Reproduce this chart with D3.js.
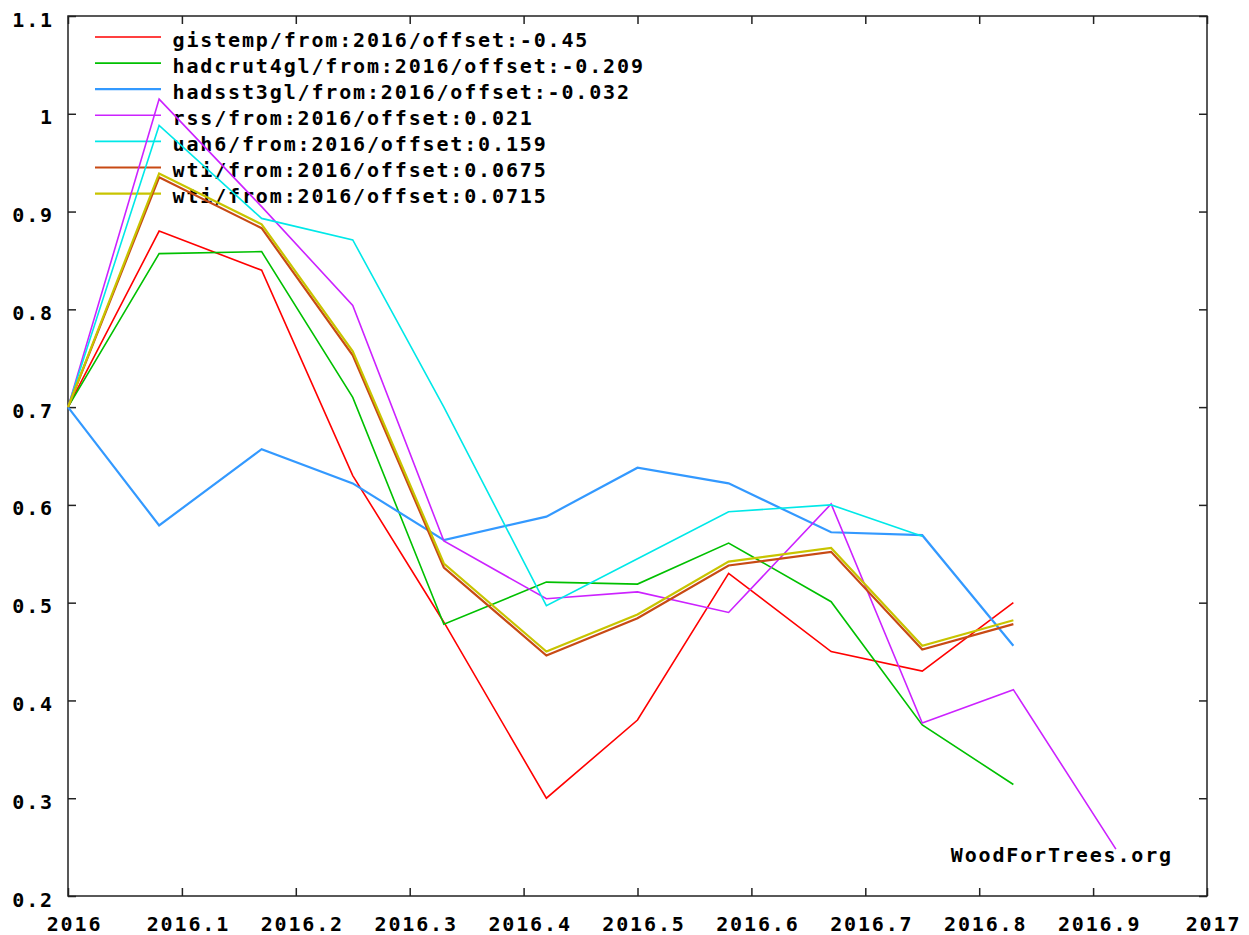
<!DOCTYPE html>
<html>
<head>
<meta charset="utf-8">
<script src="https://cdn.jsdelivr.net/npm/d3@7"></script>
<style>
  body { margin: 0; background: #fff; }
  text { font-family: "DejaVu Sans Mono", monospace; font-weight: bold; font-size: 20px; letter-spacing: 1.85px; fill: #000; }
</style>
</head>
<body>
<div id="graph"></div>
<script>
const months = [2016, 2016.08, 2016.17, 2016.25, 2016.33, 2016.42, 2016.5, 2016.58, 2016.67, 2016.75, 2016.83, 2016.92];

const gistemp = [0.70, 0.88, 0.84, 0.63, 0.48, 0.30, 0.38, 0.53, 0.45, 0.43, 0.50];
const hadcrut4gl = [0.70, 0.857, 0.859, 0.71, 0.478, 0.521, 0.519, 0.561, 0.501, 0.375, 0.314];
const hadsst3gl = [0.70, 0.579, 0.657, 0.622, 0.564, 0.588, 0.638, 0.622, 0.572, 0.569, 0.456];
const rss = [0.70, 1.015, 0.905, 0.804, 0.563, 0.504, 0.511, 0.49, 0.601, 0.377, 0.411, 0.248];
const uah6 = [0.70, 0.988, 0.893, 0.871, 0.70, 0.497, 0.545, 0.593, 0.60, 0.568];
const wti1 = [0.70, 0.935, 0.883, 0.753, 0.536, 0.446, 0.484, 0.538, 0.552, 0.452, 0.478];
const wti2 = [0.70, 0.939, 0.887, 0.757, 0.540, 0.450, 0.488, 0.542, 0.556, 0.456, 0.482];

const seriesNames = [
  "gistemp/from:2016/offset:-0.45",
  "hadcrut4gl/from:2016/offset:-0.209",
  "hadsst3gl/from:2016/offset:-0.032",
  "rss/from:2016/offset:0.021",
  "uah6/from:2016/offset:0.159",
  "wti/from:2016/offset:0.0675",
  "wti/from:2016/offset:0.0715"
];
const seriesValues = [gistemp, hadcrut4gl, hadsst3gl, rss, uah6, wti1, wti2];
const seriesColors = ["#ff0000", "#00c000", "#3399ff", "#cc22ff", "#00e8e8", "#c84a14", "#c8c400"];
const seriesWidths = [1.6, 1.6, 2.2, 1.6, 1.6, 2.2, 2.2];

const xTicks = [2016, 2016.1, 2016.2, 2016.3, 2016.4, 2016.5, 2016.6, 2016.7, 2016.8, 2016.9, 2017];
const xTickLabels = ["2016", "2016.1", "2016.2", "2016.3", "2016.4", "2016.5", "2016.6", "2016.7", "2016.8", "2016.9", "2017"];
const yTicks = [0.2, 0.3, 0.4, 0.5, 0.6, 0.7, 0.8, 0.9, 1, 1.1];
const yTickLabels = ["0.2", "0.3", "0.4", "0.5", "0.6", "0.7", "0.8", "0.9", "1", "1.1"];

const credit = "WoodForTrees.org";

const W = 1249, H = 935;
const plotL = 68, plotR = 1207, plotT = 16, plotB = 896;

const svg = d3.select("#graph")
  .append("svg")
    .attr("width", W)
    .attr("height", H);

const x = d3.scaleLinear()
  .domain([2016, 2017])
  .range([plotL, plotR]);

const y = d3.scaleLinear()
  .domain([0.2, 1.1])
  .range([plotB, plotT]);

// axes, ticks point inward like gnuplot
const xAxis = svg.append("g")
  .attr("transform", "translate(0," + plotB + ")")
  .call(d3.axisBottom(x).tickValues(xTicks).tickFormat((d, i) => xTickLabels[i]).tickSize(-8).tickSizeOuter(0).tickPadding(21));
xAxis.selectAll("text").attr("dx", 6);

const yAxis = svg.append("g")
  .attr("transform", "translate(" + plotL + ",0)")
  .call(d3.axisLeft(y).tickValues(yTicks).tickFormat((d, i) => yTickLabels[i]).tickSize(-8).tickSizeOuter(0).tickPadding(14));
yAxis.selectAll("text").attr("dy", 10);

svg.append("g")
  .attr("transform", "translate(0," + plotT + ")")
  .call(d3.axisTop(x).tickValues(xTicks).tickFormat("").tickSize(-8).tickSizeOuter(0));

svg.append("g")
  .attr("transform", "translate(" + plotR + ",0)")
  .call(d3.axisRight(y).tickValues(yTicks).tickFormat("").tickSize(-8).tickSizeOuter(0));

svg.selectAll(".domain").remove();
svg.selectAll(".tick line").attr("stroke", "#222").attr("stroke-width", 1.5);

svg.append("rect")
  .attr("x", plotL)
  .attr("y", plotT)
  .attr("width", plotR - plotL)
  .attr("height", plotB - plotT)
  .attr("fill", "none")
  .attr("stroke", "#222")
  .attr("stroke-width", 1.5);

//credit
svg.append("text")
  .attr("x", 1173)
  .attr("y", 862)
  .attr("text-anchor", "end")
  .text(credit);

const line = d3.line()
  .x(d => x(d[0]))
  .y(d => y(d[1]));

//legend first, then the lines over it
for(let i = 0; i < seriesNames.length; i++) {
  const ly = 37 + i * 26.1;

  svg.append("line")
    .attr("x1", 95)
    .attr("x2", 161)
    .attr("y1", ly)
    .attr("y2", ly)
    .attr("stroke", seriesColors[i])
    .attr("stroke-width", seriesWidths[i]);

  svg.append("text")
    .attr("x", 172.5)
    .attr("y", ly + 9.5)
    .text(seriesNames[i]);
}

for(let i = 0; i < seriesValues.length; i++) {
  const pts = seriesValues[i].map((v, j) => [months[j], v]);
  svg.append("path")
    .datum(pts)
    .attr("fill", "none")
    .attr("stroke", seriesColors[i])
    .attr("stroke-width", seriesWidths[i])
    .attr("d", line);
}
</script>
</body>
</html>
